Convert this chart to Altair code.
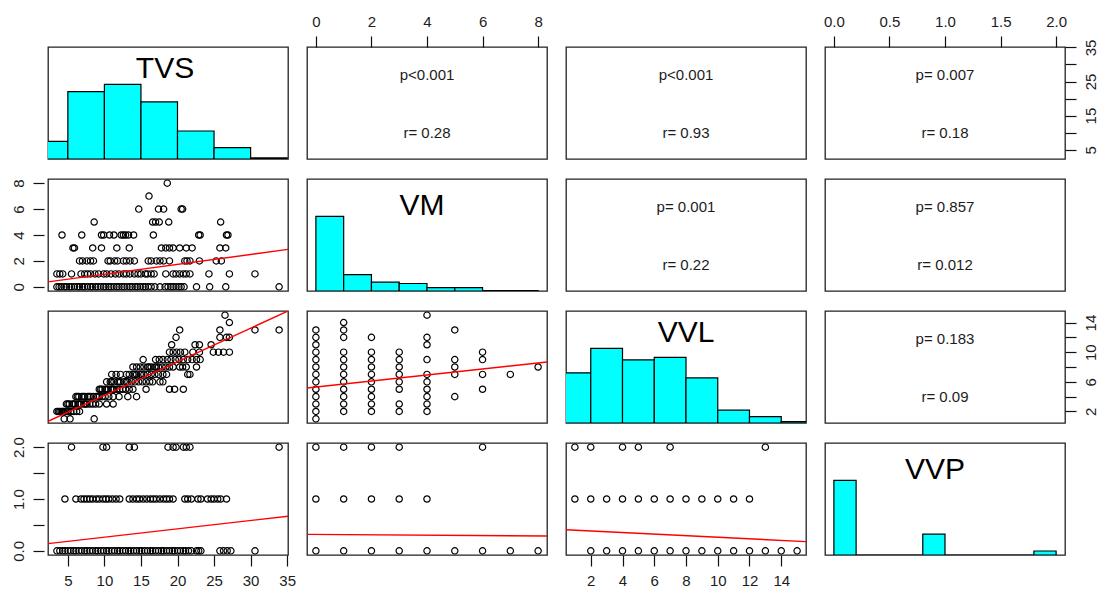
import altair as alt
import pandas as pd

FONT = "Liberation Sans"
VARS = ["TVS", "VM", "VVL", "VVP"]

# ---------------- histogram breaks / counts (diagonal panels) ----------------
TVS_BREAKS = [0, 5, 10, 15, 20, 25, 30, 35]
TVS_COUNTS = [17, 65, 72, 55, 27, 11, 1]
VM_BREAKS = [0, 1, 2, 3, 4, 5, 6, 7, 8]
VM_COUNTS = [159, 35, 19, 16, 7, 7, 1, 1]
VVL_BREAKS = [0, 2, 4, 6, 8, 10, 12, 14, 16]
VVL_COUNTS = [39, 58, 49, 51, 35, 10, 5, 1]
VVP_BREAKS = [0.0, 0.2, 0.4, 0.6, 0.8, 1.0, 1.2, 1.4, 1.6, 1.8, 2.0]
VVP_COUNTS = [186, 0, 0, 0, 52, 0, 0, 0, 0, 10]

# ---------------- scatter values (lower panels) ----------------
# TVS values observed at each VM level
TVS_AT_VM = {
    0: [3.5, 3.8, 4.1, 4.5, 4.8, 5.2, 5.5, 5.9, 6.3, 6.6, 7.0, 7.3, 7.7, 8.1, 8.4, 8.8,
        9.1, 9.5, 9.9, 10.2, 10.6, 10.9, 11.3, 11.7, 12.0, 12.4, 12.7, 13.1, 13.5, 13.8,
        14.2, 14.5, 14.9, 15.3, 15.6, 16.0, 16.4, 16.9, 17.6, 18.3, 18.7, 19.1, 19.4,
        19.8, 20.2, 20.5, 20.9, 22.6, 24.4, 26.6, 33.9],
    1: [3.5, 3.9, 4.3, 5.5, 6.8, 7.3, 7.7, 8.1, 8.7, 9.2, 9.9, 10.3, 10.9, 11.5, 12.0,
        12.6, 13.0, 13.5, 14.1, 14.6, 15.0, 15.6, 15.9, 16.4, 16.8, 18.4, 19.4, 19.8,
        20.3, 20.8, 21.2, 21.7, 24.3, 27.1, 30.6],
    2: [6.6, 7.0, 7.6, 8.1, 8.5, 10.5, 10.8, 11.4, 11.8, 12.6, 13.0, 13.5, 14.1, 16.0,
        16.4, 17.1, 17.6, 18.1, 18.9, 21.0, 21.3, 21.7, 23.0, 25.3, 26.0],
    3: [5.7, 5.9, 8.4, 9.6, 11.7, 13.4, 17.8, 18.4, 18.9, 19.4, 20.3, 21.2, 22.0, 25.8, 26.6],
    4: [4.2, 6.9, 9.6, 9.9, 10.7, 11.3, 12.3, 12.6, 12.9, 13.3, 14.0, 16.7, 22.9, 23.1,
        26.7, 26.9],
    5: [8.6, 16.6, 17.0, 17.5, 18.8, 25.9],
    6: [14.7, 17.4, 18.1, 20.5, 20.7],
    7: [16.1],
    8: [18.6],
}
# TVS values observed at each VVL level
TVS_AT_VVL = {
    1: [4.5, 5.3, 8.6],
    2: [3.5, 3.7, 3.9, 4.1, 4.3, 4.4, 4.7, 4.9, 5.0, 5.4, 5.8, 6.2, 6.6],
    3: [4.8, 5.0, 5.2, 5.6, 5.8, 6.0, 6.4, 6.6, 6.8, 7.2, 7.4, 7.6, 8.0, 8.4, 8.8, 9.3,
        10.3, 11.2],
    4: [6.1, 6.3, 6.5, 6.9, 7.1, 7.3, 7.7, 7.9, 8.1, 8.5, 8.9, 9.1, 9.3, 9.7, 10.1, 10.6,
        11.2, 12.0, 13.2, 14.4],
    5: [9.3, 9.5, 9.7, 10.1, 10.3, 10.5, 10.9, 11.1, 11.3, 11.7, 12.1, 12.5, 12.9, 13.4,
        13.9, 15.7, 18.9, 19.6, 20.8],
    6: [10.3, 10.8, 11.0, 11.3, 11.8, 12.0, 12.2, 12.7, 13.0, 13.2, 13.7, 14.2, 14.7,
        15.2, 15.7, 16.2, 16.6, 17.6, 18.0],
    7: [11.0, 11.6, 12.2, 13.0, 13.4, 13.9, 14.1, 14.4, 14.9, 15.1, 15.4, 15.9, 16.4,
        16.9, 17.4, 18.0, 18.5, 21.4, 21.7],
    8: [13.9, 14.4, 14.9, 15.4, 15.9, 16.1, 16.4, 16.9, 17.1, 17.4, 17.9, 18.4, 18.9,
        19.4, 20.3, 20.7, 21.2, 22.6],
    9: [15.3, 17.0, 17.5, 18.0, 18.6, 19.1, 19.7, 20.2, 20.8, 21.4, 22.0, 22.6, 23.1],
    10: [18.9, 19.4, 19.9, 20.4, 21.0, 22.1, 23.0, 24.9, 25.6, 26.3, 27.1],
    11: [19.2, 22.4, 23.0, 24.6],
    12: [19.8, 25.8, 26.7, 27.1],
    13: [20.3, 25.8, 30.6, 33.9],
    14: [27.1],
    15: [26.5],
}
# TVS values observed at each VVP level
TVS_AT_VVP = {
    0: [3.5, 3.9, 4.3, 4.6, 5.0, 5.4, 5.8, 6.1, 6.5, 6.9, 7.3, 7.6, 8.0, 8.4, 8.8, 9.1,
        9.5, 9.9, 10.3, 10.6, 11.0, 11.4, 11.8, 12.1, 12.5, 12.9, 13.3, 13.6, 14.0, 14.4,
        14.8, 15.1, 15.5, 15.9, 16.3, 16.6, 17.0, 17.4, 17.8, 18.1, 18.5, 18.9, 19.3,
        19.6, 20.0, 20.4, 20.8, 21.1, 21.5, 21.9, 22.6, 22.9, 23.2, 25.8, 26.3, 26.8,
        27.3, 30.6],
    1: [4.6, 6.1, 6.8, 7.2, 7.6, 8.0, 8.4, 8.9, 9.3, 9.8, 10.2, 10.6, 11.1, 11.6, 12.1,
        13.4, 13.9, 14.4, 14.8, 15.3, 15.8, 16.3, 16.7, 17.1, 17.6, 18.1, 18.5, 18.9,
        19.4, 21.0, 21.4, 21.9, 22.8, 23.2, 24.1, 24.6, 25.0, 25.5, 25.9, 26.7],
    2: [5.5, 9.8, 10.3, 13.4, 14.1, 18.7, 19.4, 19.8, 20.8, 21.2, 21.7, 33.9],
}
# VVL values observed at each VM level
VVL_AT_VM = {
    0: [1, 2, 3, 4, 5, 6, 7, 8, 9, 10, 11, 12, 13],
    1: [2, 3, 4, 5, 6, 7, 8, 9, 10, 12, 13, 14],
    2: [2, 3, 4, 5, 6, 7, 8, 9, 10, 12],
    3: [2, 3, 5, 6, 7, 8, 9, 10],
    4: [2, 3, 4, 5, 6, 7, 9, 11, 12, 15],
    5: [4, 7, 8, 9, 13],
    6: [5, 7, 9, 10],
    7: [7],
    8: [8],
}
# VM values observed at each VVP level
VM_AT_VVP = {
    0: [0, 1, 2, 3, 4, 5, 6, 7, 8],
    1: [0, 1, 2, 3, 4],
    2: [0, 1, 2, 3, 6],
}
# VVL values observed at each VVP level
VVL_AT_VVP = {
    0: [2, 3, 4, 5, 6, 7, 8, 9, 10, 11, 12, 13, 14, 15],
    1: [1, 2, 3, 4, 5, 6, 7, 8, 9, 10, 11, 12],
    2: [1, 2, 4, 5, 7, 13],
}

# least-squares lines: fitted y at the left and right edge of each panel
FIT_ENDS = {
    (1, 0): (0.38, 2.89),
    (2, 0): (0.67, 15.56),
    (3, 0): (0.14, 0.667),
    (2, 1): (5.16, 8.67),
    (3, 1): (0.317, 0.286),
    (3, 2): (0.406, 0.178),
}

# correlation test annotations (upper panels)
P_TEXT = {(0, 1): "p<0.001", (0, 2): "p<0.001", (0, 3): "p= 0.007",
          (1, 2): "p= 0.001", (1, 3): "p= 0.857", (2, 3): "p= 0.183"}
R_TEXT = {(0, 1): "r= 0.28", (0, 2): "r= 0.93", (0, 3): "r= 0.18",
          (1, 2): "r= 0.22", (1, 3): "r= 0.012", (2, 3): "r= 0.09"}

# axis ticks for each variable, and which ticks get a label on vertical axes
TICKS = {"TVS": [5, 10, 15, 20, 25, 30, 35], "VM": [0, 2, 4, 6, 8],
         "VVL": [2, 4, 6, 8, 10, 12, 14], "VVP": [0.0, 0.5, 1.0, 1.5, 2.0]}
VERTICAL_LABELED = {"TVS": [5, 15, 25, 35], "VM": [0, 2, 4, 6, 8],
                    "VVL": [2, 6, 10, 14], "VVP": [0, 1, 2]}
FMT = {"TVS": "d", "VM": "d", "VVL": "d", "VVP": ".1f"}

# which panel carries which outer axis (row, col) -> {channel: orient}
OUTER_AXES = {(0, 1): {"x": "top"}, (0, 3): {"x": "top", "y": "right"},
              (1, 0): {"y": "left"}, (2, 3): {"y": "right"},
              (3, 0): {"x": "bottom", "y": "left"}, (3, 2): {"x": "bottom"}}

# ---------------- layout / style ----------------
W, H = 240, 112
LABEL_DX = {"TVS": -3, "VM": -5, "VVL": 0, "VVP": -10}
LABEL_BASE = {"TVS": 31, "VM": 36, "VVL": 31, "VVP": 36}
TEXT_COLOR = "#1c1c1c"


def value_range(var):
    pools = {
        "TVS": [v for d in (TVS_AT_VM, TVS_AT_VVL, TVS_AT_VVP) for vs in d.values() for v in vs],
        "VM": list(TVS_AT_VM.keys()),
        "VVL": list(TVS_AT_VVL.keys()),
        "VVP": list(TVS_AT_VVP.keys()),
    }[var]
    return min(pools), max(pools)


def padded_domain(var):
    lo, hi = value_range(var)
    pad = 0.04 * (hi - lo)
    return [lo - pad, hi + pad]


def make_axis(var, orient):
    vertical = orient in ("left", "right")
    shown = VERTICAL_LABELED[var] if vertical else TICKS[var]
    expr = " || ".join(f"datum.value == {v}" for v in shown)
    kw = dict(orient=orient, values=TICKS[var], format=FMT[var], title=None,
              domain=False, grid=False, ticks=True, tickSize=11, tickWidth=1.2,
              tickColor="#111111", labelFont=FONT, labelFontSize=15,
              labelColor=TEXT_COLOR, labelOverlap=False, labelFlush=False,
              labelPadding=7, labelExpr=f"({expr}) ? datum.label : ''")
    if vertical:
        kw.update(labelAngle=270, labelAlign="center",
                  labelBaseline="bottom" if orient == "left" else "top")
    if orient == "left":
        kw["offset"] = 4
    return alt.Axis(**kw)


def encodings(r, c, ydomain=None):
    axes = OUTER_AXES.get((r, c), {})
    xv, yv = VARS[c], VARS[r]
    x_axis = make_axis(xv, axes["x"]) if "x" in axes else None
    y_axis = make_axis(yv, axes["y"]) if "y" in axes else None
    xs = alt.Scale(domain=padded_domain(xv), nice=False, zero=False)
    ys = alt.Scale(domain=ydomain or padded_domain(yv), nice=False, zero=False)
    return (alt.X("x:Q", scale=xs, axis=x_axis), alt.Y("y:Q", scale=ys, axis=y_axis))


HIST = {"TVS": (TVS_BREAKS, TVS_COUNTS), "VM": (VM_BREAKS, VM_COUNTS),
        "VVL": (VVL_BREAKS, VVL_COUNTS), "VVP": (VVP_BREAKS, VVP_COUNTS)}
SCATTER = {(1, 0): (TVS_AT_VM, "y"), (2, 0): (TVS_AT_VVL, "y"), (3, 0): (TVS_AT_VVP, "y"),
           (2, 1): (VVL_AT_VM, "x"), (3, 1): (VM_AT_VVP, "y"), (3, 2): (VVL_AT_VVP, "y")}


def diag_panel(i):
    var = VARS[i]
    breaks, counts = HIST[var]
    df = pd.DataFrame({"x": breaks[:-1], "x2": breaks[1:], "y": counts,
                       "y0": [0] * len(counts)})
    X, Y = encodings(i, i, ydomain=[0, 1.5 * max(counts)])
    bars = alt.Chart(df).mark_rect(fill="#00FFFF", stroke="black", strokeWidth=1.2,
                                   clip=True).encode(
        x=X, x2="x2:Q", y=Y, y2="y0:Q")
    label = alt.Chart(pd.DataFrame({"t": [var]})).mark_text(
        font=FONT, fontSize=30, color="black", align="center", baseline="alphabetic"
    ).encode(x=alt.value(W / 2 + LABEL_DX[var]), y=alt.value(LABEL_BASE[var]), text="t:N")
    return alt.layer(bars, label).properties(width=W, height=H)


def lower_panel(r, c):
    groups, key_axis = SCATTER[(r, c)]
    rows = []
    for key, vals in groups.items():
        for v in vals:
            rows.append({"x": key, "y": v} if key_axis == "x" else {"x": v, "y": key})
    X, Y = encodings(r, c)
    pts = alt.Chart(pd.DataFrame(rows)).mark_point(
        shape="circle", filled=False, color="black", size=40, strokeWidth=1.2,
        opacity=1, clip=True
    ).encode(x=X, y=Y)
    xd = padded_domain(VARS[c])
    y_left, y_right = FIT_ENDS[(r, c)]
    fit = alt.Chart(pd.DataFrame({"x": xd, "y": [y_left, y_right]})).mark_line(
        color="#ff0000", strokeWidth=1.4, clip=True).encode(x=X, y=Y)
    return alt.layer(pts, fit).properties(width=W, height=H)


def upper_panel(r, c):
    texts = [(P_TEXT[(r, c)], 28), (R_TEXT[(r, c)], 86)]
    layers = [
        alt.Chart(pd.DataFrame({"t": [t]})).mark_text(
            font=FONT, fontSize=15, color=TEXT_COLOR, align="center", baseline="middle"
        ).encode(x=alt.value(W / 2), y=alt.value(p), text="t:N")
        for t, p in texts
    ]
    if (r, c) in OUTER_AXES:
        # invisible corner points so the panel carries its outer axes
        X, Y = encodings(r, c)
        xd, yd = padded_domain(VARS[c]), padded_domain(VARS[r])
        frame = alt.Chart(pd.DataFrame({"x": xd, "y": yd})).mark_point(opacity=0).encode(
            x=X, y=Y)
        layers = [frame] + layers
    return alt.layer(*layers).properties(width=W, height=H)


panels = []
for r in range(4):
    for c in range(4):
        if r == c:
            panels.append(diag_panel(r))
        elif r > c:
            panels.append(lower_panel(r, c))
        else:
            panels.append(upper_panel(r, c))

chart = alt.concat(*panels, columns=4, spacing={"row": 20, "column": 19},
                   bounds="flush").properties(
    background="white",
    padding={"left": 10, "top": 13, "right": 5, "bottom": 5},
).configure_view(stroke="#222222", strokeWidth=1.3)

chart.save("out.html", embed_options={"renderer": "svg", "actions": False})
